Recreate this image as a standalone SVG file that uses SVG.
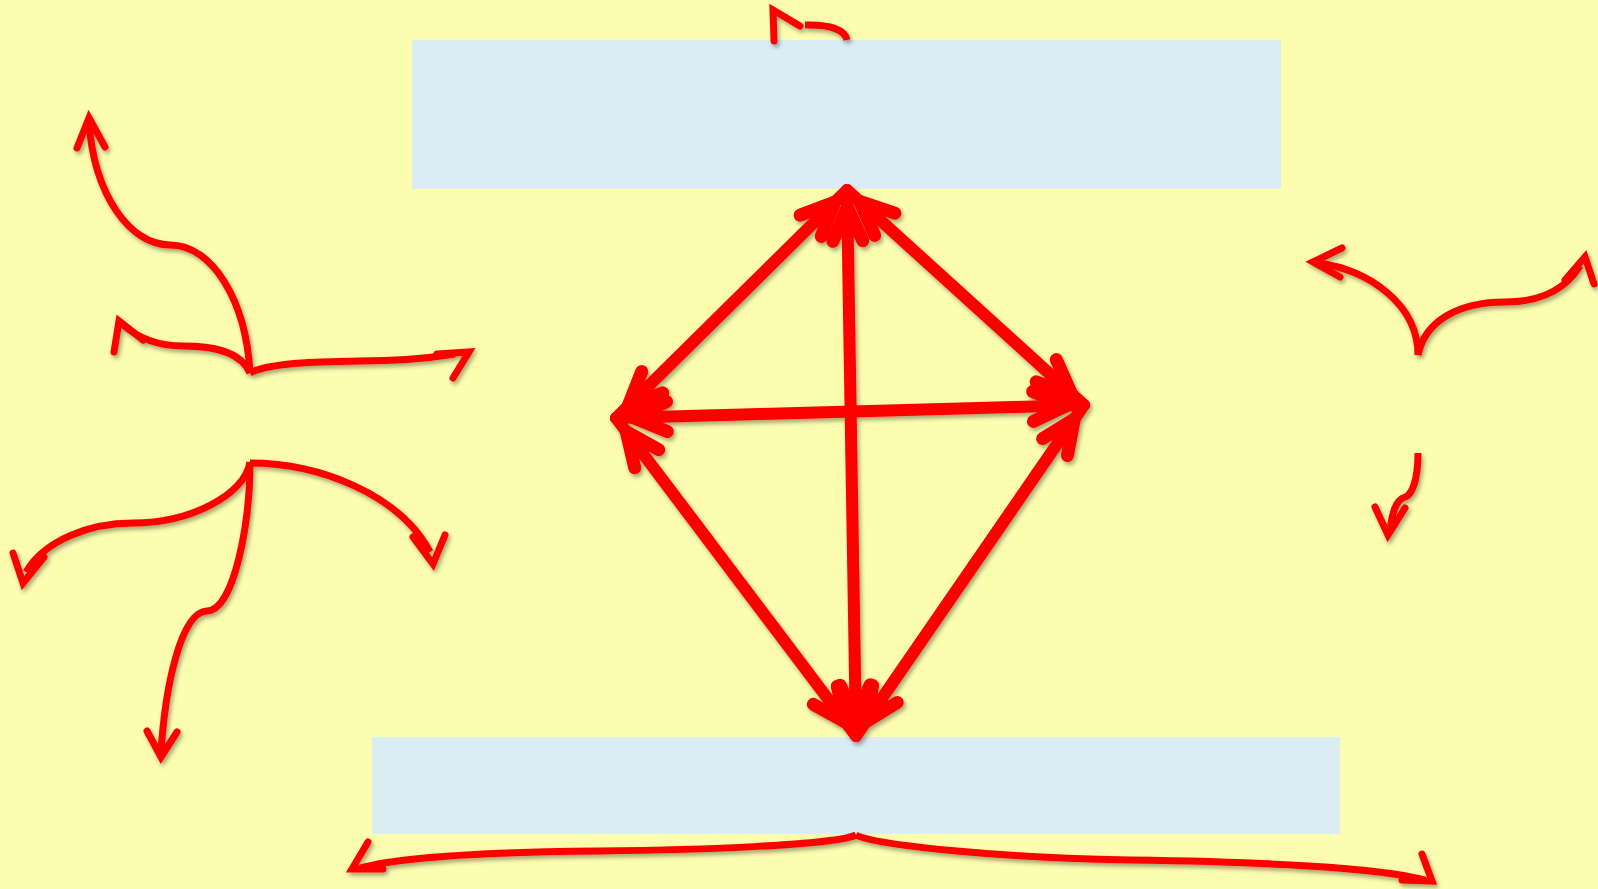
<svg xmlns="http://www.w3.org/2000/svg" width="1598" height="889" viewBox="0 0 1598 889">
<defs>
<style>
.box{fill:#DAEDF4;}
.big{fill:none;stroke:#FF0000;stroke-width:12;stroke-linecap:round;}
.cur{fill:none;stroke:#FF0000;stroke-width:7;stroke-linecap:butt;}
.head{fill:none;stroke:#FF0000;stroke-width:7;stroke-linecap:round;stroke-linejoin:miter;stroke-miterlimit:10;}
</style>
<marker id="ah" markerUnits="userSpaceOnUse" viewBox="-70 -40 80 80" markerWidth="80" markerHeight="80" refX="0" refY="0" orient="auto-start-reverse" overflow="visible">
<path d="M-51,-15 L-17,0 L-51,15" fill="none" stroke="#FF0000" stroke-width="13" stroke-linecap="round" stroke-linejoin="miter" stroke-miterlimit="10"/>
</marker>
<filter id="sh" x="-10%" y="-10%" width="120%" height="120%">
<feDropShadow dx="2" dy="3" stdDeviation="2" flood-color="#000" flood-opacity="0.35"/>
</filter>
</defs>
<rect x="0" y="0" width="1598" height="889" fill="#FDFDB0"/>
<g id="top-box"><rect class="box" x="412" y="40" width="869" height="149"/></g>
<g id="bottom-box"><rect class="box" x="372" y="737" width="968" height="97"/></g>
<g id="connectors" filter="url(#sh)">
<line class="big" x1="847" y1="190" x2="616" y2="418" marker-start="url(#ah)" marker-end="url(#ah)"/>
<line class="big" x1="847" y1="190" x2="1084" y2="405" marker-start="url(#ah)" marker-end="url(#ah)"/>
<line class="big" x1="847" y1="190" x2="856" y2="736" marker-start="url(#ah)" marker-end="url(#ah)"/>
<line class="big" x1="616" y1="418" x2="1084" y2="405" marker-start="url(#ah)" marker-end="url(#ah)"/>
<line class="big" x1="616" y1="418" x2="856" y2="736" marker-start="url(#ah)" marker-end="url(#ah)"/>
<line class="big" x1="1084" y1="405" x2="856" y2="736" marker-start="url(#ah)" marker-end="url(#ah)"/>
<path class="cur" d="M250,373 C246,300 212,245 170,245 C130,245 94,195 89,122"/>
<path class="head" d="M77,148 L89,118 L105,147"/>
<path class="cur" d="M250,373 C240,350 210,346 183,346 C160,346 140,340 122,324"/>
<path class="head" d="M114,352 L119,321 L143,340"/>
<path class="cur" d="M250,373 C270,362 320,362 360,361 C400,361 430,358 455,354"/>
<path class="head" d="M437,354 L469,352 L453,378"/>
<path class="cur" d="M250,462 C245,495 190,523 133,523 C90,523 45,540 26,572"/>
<path class="head" d="M13,553 L23,583 L44,557"/>
<path class="cur" d="M250,462 C250,520 235,610 207,611 C180,612 165,690 161,752"/>
<path class="head" d="M147,731 L161,757 L177,732"/>
<path class="cur" d="M250,463 C320,463 400,495 430,552"/>
<path class="head" d="M413,537 L433,564 L445,535"/>
<path class="cur" d="M1418,355 C1418,305 1370,270 1318,263"/>
<path class="head" d="M1342,248 L1313,262 L1340,277"/>
<path class="cur" d="M1418,355 C1425,320 1460,302 1505,302 C1540,302 1565,290 1580,266"/>
<path class="head" d="M1565,280 L1585,257 L1594,284"/>
<path class="cur" d="M1418,453 C1418,480 1412,495 1405,497 C1395,500 1392,515 1390,530"/>
<path class="head" d="M1375,507 L1388,535 L1405,508"/>
<path class="cur" d="M847,40 C845,30 830,24 805,25"/>
<path class="head" d="M774,41 L773,10 L800,26"/>
<path class="cur" d="M856,835 C835,845 700,850 600,851 C480,852 400,857 360,868"/>
<path class="head" d="M368,842 L352,869 L383,869"/>
<path class="cur" d="M856,835 C875,845 1000,858 1130,860 C1280,862 1380,868 1425,880"/>
<path class="head" d="M1422,854 L1432,881 L1402,880"/>
</g>
</svg>
